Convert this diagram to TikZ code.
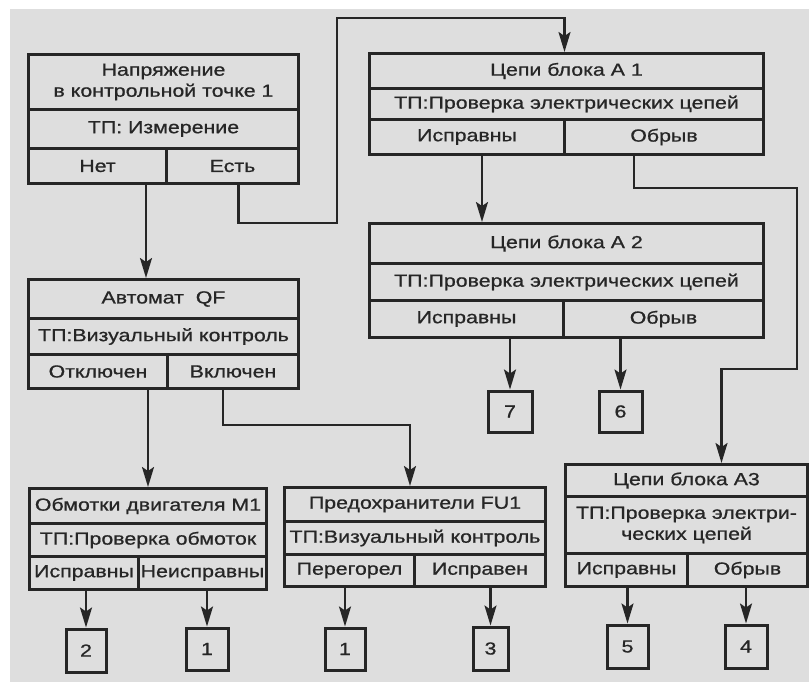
\documentclass[tikz,border=0pt]{standalone}
\usepackage{fontspec}
\setmainfont[FakeStretch=1.22, FakeBold=0.8]{Liberation Sans}
\usetikzlibrary{arrows.meta}
\tikzset{
    cell/.style = {draw = black!85, line width = 3pt, inner sep = 0pt, anchor = north west, align = center, text = black!85, font = \fontsize{17.5}{21}\selectfont},
    numbox/.style = {draw = black!85, line width = 3pt, inner sep = 0pt, text = black!85, font = \fontsize{17.5}{21}\selectfont},
    link/.style = {draw = black!85, line width = 2.2pt},
    linkarr/.style = {link, -{Stealth[length = 20pt, width = 12pt, inset = 4pt]}}
}
\begin{document}
\begin{tikzpicture}[x = 1pt, y = -1pt]
        \useasboundingbox (0, 0) rectangle (809, 682);
        \fill[black!13] (10, 9) rectangle (809, 682);
        % blocks: name / left / top / right / row lines / bottom / split / texts
        \foreach \n/\xa/\ya/\xb/\yb/\yc/\yd/\xs/\ta/\tb/\tl/\tr in {
            b1/27/53/297/108/147/182/165/{Напряжение\\в контрольной точке 1}/{ТП: Измерение}/Нет/Есть,
            a1/368/52/762/87/118/153/563/{Цепи блока А 1}/{ТП:Проверка электрических цепей}/Исправны/Обрыв,
            a2/368/222/762/262/299/336/562/{Цепи блока А 2}/{ТП:Проверка электрических цепей}/Исправны/Обрыв,
            qf/27/278/297/317/353/387/166/{Автомат\ \ QF}/{ТП:Визуальный контроль}/Отключен/Включен,
            m1/28/487/265/522/555/588/137/{Обмотки двигателя M1}/{ТП:Проверка обмоток}/Исправны/Неисправны,
            fu1/283/486/544/520/553/585/413/{Предохранители FU1}/{ТП:Визуальный контроль}/Перегорел/Исправен,
            a3/564/463/806/495/552/585/686/{Цепи блока А3}/{ТП:Проверка электри-\\ческих цепей}/Исправны/Обрыв}{
            \pgfmathsetmacro{\w}{\xb - \xa}
            \pgfmathsetmacro{\wl}{\xs - \xa}
            \pgfmathsetmacro{\wr}{\xb - \xs}
            \pgfmathsetmacro{\ha}{\yb - \ya}
            \pgfmathsetmacro{\hb}{\yc - \yb}
            \pgfmathsetmacro{\hc}{\yd - \yc}
            \node[cell, minimum width = \w pt, minimum height = \ha pt] (\n-t) at (\xa, \ya) {\ta};
            \node[cell, minimum width = \w pt, minimum height = \hb pt] (\n-p) at (\xa, \yb) {\tb};
            \node[cell, minimum width = \wl pt, minimum height = \hc pt] (\n-l) at (\xa, \yc) {\tl};
            \node[cell, minimum width = \wr pt, minimum height = \hc pt] (\n-r) at (\xs, \yc) {\tr};
        }
        % numbered end boxes
        \foreach \n/\xa/\ya/\xb/\yb/\t in {n7/488/391/532/432/7, n6/599/391/642/432/6, n2/66/629/106/672/2, n1a/186/628/228/670/1,
            n1b/325/628/365/670/1, n3/473/627/508/670/3, n5/607/625/648/668/5, n4/725/625/767/668/4}{
            \pgfmathsetmacro{\x}{0.5 * (\xa + \xb)}
            \pgfmathsetmacro{\y}{0.5 * (\ya + \yb)}
            \pgfmathsetmacro{\w}{\xb - \xa}
            \pgfmathsetmacro{\h}{\yb - \ya}
            \node[numbox, minimum width = \w pt, minimum height = \h pt] (\n) at (\x, \y) {\t};
        }
        % Нет -> автомат, Есть -> блок A1
        \coordinate (b1-no) at ([xshift = -22pt]b1-l.south east);
        \draw[linkarr] (b1-no) -- (b1-no |- qf-t.north);
        \coordinate (b1-yes) at ([xshift = 6pt]b1-r.south);
        \coordinate (k1) at (337, 223);
        \coordinate (k2) at (337, 18);
        \draw[linkarr] (b1-yes) |- (k1) -- (k2) -| ([xshift = -2pt]a1-t.north);
        % блок A1 -> A2, A3
        \coordinate (a1-ok) at ([xshift = 15pt]a1-l.south);
        \draw[linkarr] (a1-ok) -- (a1-ok |- a2-t.north);
        \coordinate (a1-br) at ([xshift = -30pt]a1-r.south);
        \coordinate (k3) at (797, 188);
        \coordinate (k4) at (797, 369);
        \coordinate (a3-in) at ([xshift = 35pt]a3-t.north);
        \draw[linkarr] (a1-br) |- (k3) -- (k4) -| (a3-in);
        % автомат -> обмотки, предохранители
        \draw[linkarr] (qf-l.south -| m1-t.north) -- (m1-t.north);
        \coordinate (qf-on) at ([xshift = -10pt]qf-r.south);
        \draw[linkarr] (qf-on) -- ++(0, 35) -| ([xshift = -5pt]fu1-t.north);
        % outcomes
        \foreach \a/\b in {a2-l/n7, a2-r/n6, m1-l/n2, m1-r/n1a, fu1-l/n1b, fu1-r/n3, a3-l/n5, a3-r/n4}{
            \draw[linkarr] (\a.south -| \b.north) -- (\b.north);
        }
    \end{tikzpicture}
\end{document}
